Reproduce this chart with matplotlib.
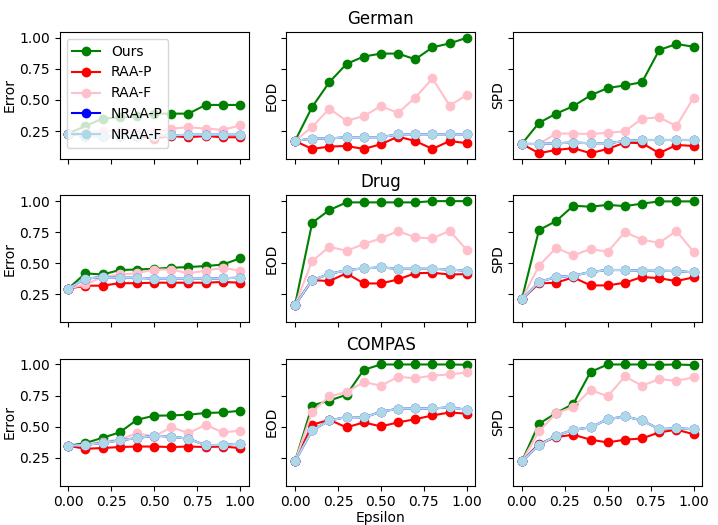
import numpy as np
import matplotlib
matplotlib.use('Agg')
import matplotlib.pyplot as plt

# ── 数据 ─────────────────────────────────────────────
epsilon = [0.0, 0.1, 0.2, 0.3, 0.4, 0.5, 0.6, 0.7, 0.8, 0.9, 1.0]

methods = ['Ours', 'RAA-P', 'RAA-F', 'NRAA-P', 'NRAA-F']
colors = ['green', 'red', 'pink', 'blue', 'lightblue']
datasets = ['German', 'Drug', 'COMPAS']
metrics = ['Error', 'EOD', 'SPD']

# German
german_error_ours = [0.23, 0.29, 0.35, 0.36, 0.37, 0.39, 0.39, 0.39, 0.46, 0.46, 0.46]
german_error_raap = [0.23, 0.21, 0.21, 0.21, 0.21, 0.19, 0.21, 0.20, 0.21, 0.20, 0.20]
german_error_raaf = [0.23, 0.24, 0.25, 0.25, 0.24, 0.24, 0.27, 0.28, 0.27, 0.26, 0.295]
german_error_nraa = [0.23, 0.21, 0.21, 0.21, 0.21, 0.21, 0.215, 0.22, 0.22, 0.22, 0.22]

german_eod_ours = [0.17, 0.444, 0.643, 0.79, 0.849, 0.873, 0.873, 0.827, 0.923, 0.955, 1.0]
german_eod_raap = [0.17, 0.106, 0.125, 0.13, 0.106, 0.144, 0.205, 0.17, 0.106, 0.17, 0.152]
german_eod_raaf = [0.17, 0.284, 0.43, 0.332, 0.37, 0.45, 0.396, 0.519, 0.673, 0.455, 0.54]
german_eod_nraa = [0.17, 0.19, 0.19, 0.2, 0.2, 0.2, 0.224, 0.224, 0.224, 0.224, 0.224]

german_spd_ours = [0.146, 0.316, 0.39, 0.45, 0.537, 0.596, 0.617, 0.643, 0.902, 0.95, 0.928]
german_spd_raap = [0.146, 0.072, 0.098, 0.112, 0.072, 0.106, 0.157, 0.152, 0.072, 0.138, 0.13]
german_spd_raaf = [0.146, 0.146, 0.23, 0.23, 0.226, 0.236, 0.248, 0.35, 0.36, 0.29, 0.519]
german_spd_nraa = [0.146, 0.146, 0.152, 0.157, 0.152, 0.152, 0.17, 0.178, 0.178, 0.178, 0.178]

# Drug
drug_error_ours = [0.296, 0.419, 0.41, 0.446, 0.45, 0.456, 0.464, 0.47, 0.478, 0.49, 0.54]
drug_error_raap = [0.296, 0.32, 0.32, 0.34, 0.34, 0.344, 0.344, 0.344, 0.344, 0.35, 0.344]
drug_error_raaf = [0.296, 0.33, 0.39, 0.41, 0.42, 0.45, 0.45, 0.42, 0.44, 0.464, 0.44]
drug_error_nraa = [0.296, 0.376, 0.39, 0.384, 0.384, 0.376, 0.376, 0.376, 0.376, 0.38, 0.384]

drug_eod_ours = [0.164, 0.826, 0.928, 0.99, 0.99, 0.99, 0.99, 0.99, 1.0, 1.0, 1.0]
drug_eod_raap = [0.164, 0.365, 0.357, 0.42, 0.338, 0.338, 0.37, 0.42, 0.424, 0.41, 0.413]
drug_eod_raaf = [0.164, 0.518, 0.633, 0.60, 0.655, 0.70, 0.76, 0.708, 0.70, 0.762, 0.607]
drug_eod_nraa = [0.164, 0.365, 0.413, 0.446, 0.459, 0.467, 0.456, 0.456, 0.456, 0.45, 0.44]

drug_spd_ours = [0.21, 0.767, 0.84, 0.963, 0.955, 0.97, 0.96, 0.98, 0.998, 0.998, 0.998]
drug_spd_raap = [0.21, 0.338, 0.344, 0.387, 0.322, 0.322, 0.344, 0.39, 0.38, 0.357, 0.387]
drug_spd_raaf = [0.21, 0.48, 0.625, 0.564, 0.615, 0.593, 0.75, 0.69, 0.665, 0.76, 0.593]
drug_spd_nraa = [0.21, 0.35, 0.39, 0.40, 0.43, 0.446, 0.446, 0.44, 0.44, 0.438, 0.427]

# COMPAS
compas_error_ours = [0.346, 0.368, 0.41, 0.454, 0.555, 0.588, 0.59, 0.596, 0.61, 0.614, 0.628]
compas_error_raap = [0.346, 0.322, 0.328, 0.336, 0.34, 0.34, 0.336, 0.34, 0.336, 0.34, 0.328]
compas_error_raaf = [0.346, 0.354, 0.38, 0.395, 0.448, 0.42, 0.496, 0.448, 0.515, 0.454, 0.467]
compas_error_nraa = [0.346, 0.354, 0.368, 0.39, 0.408, 0.427, 0.42, 0.403, 0.35, 0.354, 0.363]

compas_eod_ours = [0.22, 0.67, 0.71, 0.756, 0.957, 1.0, 1.0, 1.0, 1.0, 1.0, 0.998]
compas_eod_raap = [0.22, 0.515, 0.555, 0.494, 0.534, 0.502, 0.534, 0.56, 0.59, 0.614, 0.604]
compas_eod_raaf = [0.22, 0.62, 0.743, 0.778, 0.858, 0.83, 0.90, 0.89, 0.91, 0.92, 0.936]
compas_eod_nraa = [0.22, 0.47, 0.55, 0.577, 0.574, 0.62, 0.644, 0.646, 0.646, 0.655, 0.636]

compas_spd_ours = [0.22, 0.523, 0.609, 0.684, 0.94, 1.0, 1.0, 1.0, 0.997, 1.0, 0.995]
compas_spd_raap = [0.22, 0.362, 0.416, 0.435, 0.395, 0.373, 0.395, 0.405, 0.454, 0.475, 0.44]
compas_spd_raaf = [0.22, 0.462, 0.609, 0.657, 0.796, 0.743, 0.904, 0.829, 0.882, 0.869, 0.896]
compas_spd_nraa = [0.22, 0.352, 0.427, 0.475, 0.494, 0.56, 0.582, 0.55, 0.48, 0.486, 0.48]

# 每个子图: [Ours, RAA-P, RAA-F, NRAA-P, NRAA-F]（NRAA-P 与 NRAA-F 重合）
results = {
    ('German', 'Error'): [german_error_ours, german_error_raap, german_error_raaf, german_error_nraa, german_error_nraa],
    ('German', 'EOD'): [german_eod_ours, german_eod_raap, german_eod_raaf, german_eod_nraa, german_eod_nraa],
    ('German', 'SPD'): [german_spd_ours, german_spd_raap, german_spd_raaf, german_spd_nraa, german_spd_nraa],
    ('Drug', 'Error'): [drug_error_ours, drug_error_raap, drug_error_raaf, drug_error_nraa, drug_error_nraa],
    ('Drug', 'EOD'): [drug_eod_ours, drug_eod_raap, drug_eod_raaf, drug_eod_nraa, drug_eod_nraa],
    ('Drug', 'SPD'): [drug_spd_ours, drug_spd_raap, drug_spd_raaf, drug_spd_nraa, drug_spd_nraa],
    ('COMPAS', 'Error'): [compas_error_ours, compas_error_raap, compas_error_raaf, compas_error_nraa, compas_error_nraa],
    ('COMPAS', 'EOD'): [compas_eod_ours, compas_eod_raap, compas_eod_raaf, compas_eod_nraa, compas_eod_nraa],
    ('COMPAS', 'SPD'): [compas_spd_ours, compas_spd_raap, compas_spd_raaf, compas_spd_nraa, compas_spd_nraa],
}

# ── 绘图 ─────────────────────────────────────────────
fig, axes = plt.subplots(3, 3, figsize=(7.18, 5.25), dpi=100, sharex=True, sharey=True)

for i, ds in enumerate(datasets):
    for j, metric in enumerate(metrics):
        ax = axes[i, j]
        for name, c, vals in zip(methods, colors, results[(ds, metric)]):
            ax.plot(epsilon, vals, marker='o', color=c, label=name)
        ax.set_ylabel(metric, labelpad=2)
        if j == 1:
            ax.set_title(ds)
        if i == 2 and j == 1:
            ax.set_xlabel('Epsilon', labelpad=1)

axes[0, 0].legend(loc='upper left')
axes[0, 0].set_xticks([0.0, 0.25, 0.5, 0.75, 1.0])
axes[0, 0].set_yticks([0.25, 0.5, 0.75, 1.0])

plt.subplots_adjust(left=0.083, right=0.978, top=0.939, bottom=0.075, wspace=0.2, hspace=0.287)
fig.savefig('out.png', dpi=100)
